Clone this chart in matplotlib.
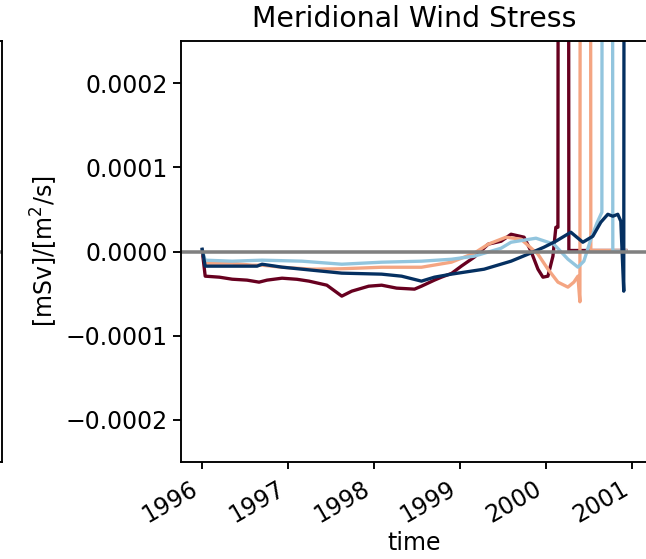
"""
Meridional wind stress time series, four runs, with the neighbouring panel's edge on the left.
"""

import numpy as np
import pandas as pd
import matplotlib
matplotlib.use("Agg")
import matplotlib.pyplot as plt

SCALE = 1e-5  # values below are in units of 1e-5
DPI = 170

# decimal years / values (x1e-5)
red_t = [1996.000, 1996.035, 1996.200, 1996.348, 1996.520, 1996.660, 1996.753, 1996.927,
         1997.100, 1997.240, 1997.448, 1997.622, 1997.738, 1997.935, 1998.086, 1998.260,
         1998.468, 1998.549, 1998.700, 1998.781, 1998.900, 1999.013, 1999.163, 1999.326,
         1999.476, 1999.592, 1999.743, 1999.824, 1999.905, 1999.963, 2000.021, 2000.079,
         2000.113, 2000.137, 2000.160, 2000.241, 2000.264, 2000.925]
red_v = [0.15, -2.93, -3.05, -3.29, -3.40, -3.64, -3.40, -3.17,
         -3.30, -3.52, -4.00, -5.30, -4.71, -4.12, -4.00, -4.35,
         -4.47, -4.12, -3.40, -3.05, -2.60, -1.74, -0.68, 0.87,
         1.22, 2.05, 1.70, 0.04, -2.10, -3.05, -2.93, -0.56,
         2.88, 2.88, 300.0, 300.0, 0.12, 0.12]

salmon_t = [1996.000, 1996.035, 1996.348, 1996.579, 1996.695, 1996.927, 1997.275, 1997.622,
            1998.086, 1998.549, 1998.897, 1999.163, 1999.326, 1999.534, 1999.708, 1999.905,
            2000.021, 2000.137, 2000.253, 2000.322, 2000.369, 2000.392, 2000.415, 2000.496,
            2000.519, 2000.925]
salmon_v = [0.15, -1.39, -1.39, -1.63, -1.63, -1.87, -2.10, -2.05,
            -1.87, -1.87, -1.27, -0.20, 0.87, 1.70, 1.46, -0.32,
            -2.10, -3.64, -4.23, -3.64, -2.93, -5.97, 300.0, 300.0,
            0.12, 0.12]

lblue_t = [1996.000, 1996.035, 1996.348, 1996.695, 1997.159, 1997.622, 1998.086, 1998.549,
           1998.897, 1999.163, 1999.476, 1999.592, 1999.882, 2000.090, 2000.253, 2000.369,
           2000.438, 2000.519, 2000.589, 2000.647, 2000.670, 2000.751, 2000.774, 2000.925]
lblue_v = [0.15, -1.03, -1.15, -1.03, -1.15, -1.51, -1.27, -1.15,
           -0.92, -0.56, 0.39, 1.10, 1.58, 0.87, -0.91, -1.86,
           -1.15, 1.46, 3.36, 4.66, 300.0, 300.0, 0.04, 0.04]

dblue_t = [1996.000, 1996.035, 1996.348, 1996.637, 1996.695, 1996.927, 1997.275, 1997.622,
           1998.086, 1998.318, 1998.549, 1998.700, 1998.897, 1999.279, 1999.592, 1999.789,
           1999.975, 2000.113, 2000.287, 2000.426, 2000.542, 2000.635, 2000.716, 2000.774,
           2000.832, 2000.867, 2000.901, 2000.925]
dblue_v = [0.27, -1.74, -1.74, -1.74, -1.51, -1.86, -2.22, -2.57,
           -2.69, -2.93, -3.52, -3.05, -2.69, -2.10, -1.15, -0.32,
           0.51, 1.22, 2.29, 1.10, 1.81, 3.48, 4.42, 4.19,
           4.42, 3.59, -4.71, 300.0]

series = [
    (red_t, red_v, "#67001f"),
    (salmon_t, salmon_v, "#f4a582"),
    (lblue_t, lblue_v, "#92c5de"),
    (dblue_t, dblue_v, "#053061"),
]


def to_dates(years):
    """Decimal years -> timestamps."""
    out = []
    for y in years:
        start = pd.Timestamp(year=int(y), month=1, day=1)
        end = pd.Timestamp(year=int(y) + 1, month=1, day=1)
        out.append(start + (end - start) * (y - int(y)))
    return pd.to_datetime(out)


fig = plt.figure(figsize=(646 / DPI, 559 / DPI), dpi=DPI)

# edge of the neighbouring panel, mostly off-canvas
ax_left = fig.add_axes([-0.5, 97 / 559, 0.5 + 2 / 646, 421 / 559])
ax_left.axhline(0, color="grey", lw=1.5)
ax_left.set_ylim(-0.00025, 0.00025)
ax_left.set_xticks([])
ax_left.set_yticks([])

ax = fig.add_axes([181 / 646, 97 / 559, 466 / 646, 421 / 559])
for t, v, c in series:
    ax.plot(to_dates(t), np.array(v) * SCALE, color=c, lw=1.4)
ax.axhline(0, color="grey", lw=1.5)

ax.set_ylim(-0.00025, 0.00025)
ax.set_yticks([-0.0002, -0.0001, 0.0, 0.0001, 0.0002])
ax.set_yticklabels(["\u22120.0002", "\u22120.0001", "0.0000", "0.0001", "0.0002"])
ax.tick_params(axis="x", length=2.8)
ax.tick_params(axis="y", length=3.2, pad=2.5)
ax.set_title("Meridional Wind Stress")
ax.set_ylabel("[mSv]/[m$^2$/s]", labelpad=2.5)
ax.set_xlabel("time", labelpad=1.5)
for lab in ax.get_xticklabels():
    lab.set_rotation(30)
    lab.set_ha("right")

fig.savefig("out.png", dpi=DPI)
